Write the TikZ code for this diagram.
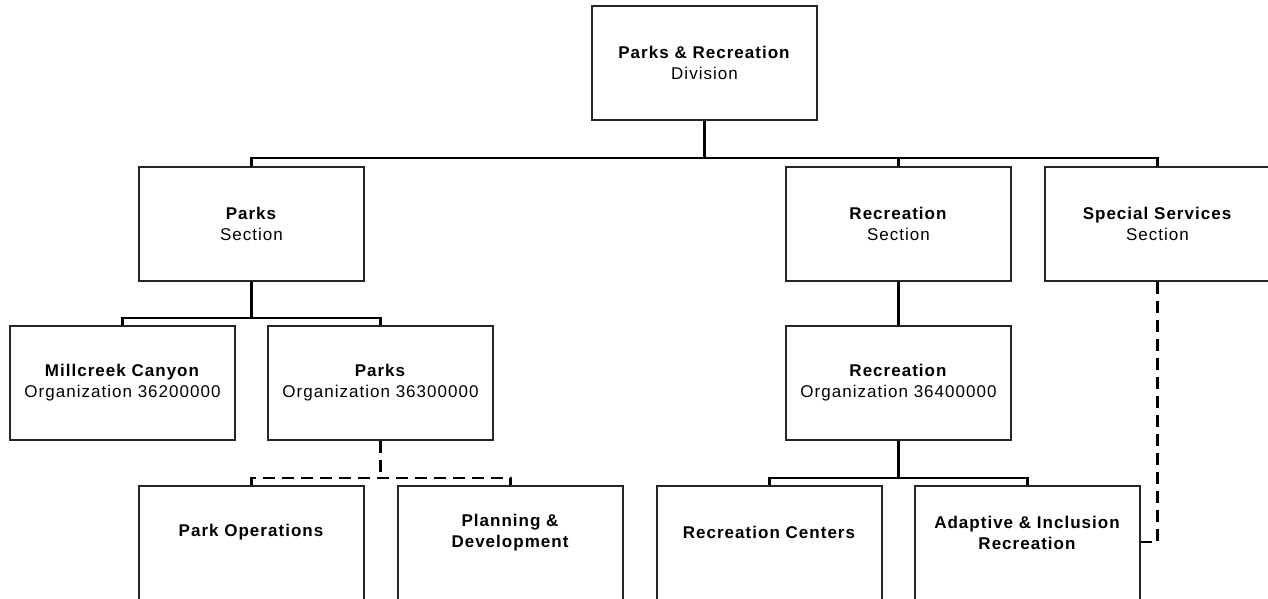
\documentclass[tikz,border=0pt]{standalone}
\usepackage{fontspec}
\setmainfont{Liberation Sans}[LetterSpace=6]
\begin{document}
\begin{tikzpicture}[x=1pt,y=-1pt,
  box/.style={draw=black!85, line width=1.4pt, minimum width=225pt, minimum height=114pt, inner sep=0pt, fill=white},
  lbl/.style={align=center, font=\fontsize{17}{21}\selectfont, inner sep=0pt, text=black},
  conn/.style={line width=2.1pt, draw=black},
  dashline/.style={conn, dash pattern=on 12pt off 7pt}]
\useasboundingbox (0,0) rectangle (1268,598);

% boxes
\node[box] (div)     at (704.5,63)  {};
\node[box] (parksS)  at (251.5,224) {};
\node[box] (recS)    at (898.5,224) {};
\node[box] (specS)   at (1157.5,224) {};
\node[box] (mill)    at (122.5,383) {};
\node[box] (parksO)  at (380.5,383) {};
\node[box] (recO)    at (898.5,383) {};
\node[box] (parkOps) at (251.5,543) {};
\node[box] (plan)    at (510.5,543) {};
\node[box] (recC)    at (769.5,543) {};
\node[box] (adapt)   at (1027.5,543) {};

% labels
\node[lbl] (divT)     at ([yshift=-57.5pt]div.north)    {\textbf{Parks \& Recreation}\\Division};
\node[lbl] (parksST)  at ([yshift=-57.5pt]parksS.north) {\textbf{Parks}\\Section};
\node[lbl] (recST)    at ([yshift=-57.5pt]recS.north)   {\textbf{Recreation}\\Section};
\node[lbl] (specST)   at ([yshift=-57.5pt]specS.north)  {\textbf{Special Services}\\Section};
\node[lbl] (millT)    at ([yshift=-57.5pt]mill.north)   {\textbf{Millcreek Canyon}\\Organization 36200000};
\node[lbl] (parksOT)  at ([yshift=-57.5pt]parksO.north) {\textbf{Parks}\\Organization 36300000};
\node[lbl] (recOT)    at ([yshift=-57.5pt]recO.north)   {\textbf{Recreation}\\Organization 36400000};
\node[lbl] (parkOpsT) at ([yshift=-47pt]parkOps.north)  {\textbf{Park Operations}};
\node[lbl] (planT)    at ([yshift=-47.5pt]plan.north)   {\textbf{Planning \&}\\\textbf{Development}};
\node[lbl] (recCT)    at ([yshift=-47pt]recC.north)     {\textbf{Recreation Centers}};
\node[lbl] (adaptT)   at ([yshift=-47.5pt]adapt.north)  {\textbf{Adaptive \& Inclusion}\\\textbf{Recreation}};

% bus levels
\coordinate (bus1) at (0,158);
\coordinate (bus2) at (0,318);
\coordinate (bus3) at (0,478);
\coordinate (elbow) at (0,542);

% solid reporting lines
\draw[conn] (div.south) -- (div.south |- bus1);
\draw[conn] (parksS.north) |- (specS.north |- bus1) -- (specS.north);
\draw[conn] (recS.north) -- (recS.north |- bus1);
\draw[conn] (parksS.south) -- (parksS.south |- bus2);
\draw[conn] (mill.north) |- (parksO.north |- bus2) -- (parksO.north);
\draw[conn] (recS.south) -- (recO.north);
\draw[conn] (recO.south) -- (recO.south |- bus3);
\draw[conn] (recC.north) |- (adapt.north |- bus3) -- (adapt.north);

% dashed reporting lines
\draw[dashline] (parksO.south) -- (parksO.south |- bus3);
\draw[dashline] (parkOps.north) |- (plan.north |- bus3) -- (plan.north);
\draw[dashline] (specS.south) |- (adapt.east |- elbow);
\end{tikzpicture}
\end{document}
